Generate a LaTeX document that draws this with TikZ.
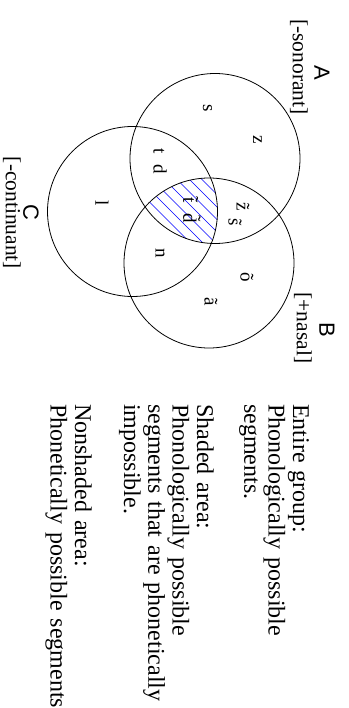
\documentclass[tikz,border=0pt]{standalone}
\usepackage{fontspec}
\setmainfont{Liberation Serif}
\newfontfamily\setletterfont{Liberation Sans}

\tikzset{
  setline/.style={line width=0.8pt},
  setname/.style={font=\setletterfont\fontsize{22}{22}\selectfont, inner sep=0pt},
  feature/.style={font=\fontsize{21.5}{24}\selectfont, inner sep=0pt},
  segment/.style={font=\fontsize{19}{21}\selectfont, inner sep=0pt},
  hatch/.style={blue, line width=0.5pt},
  legend/.style={font=\fontsize{24}{24.3}\selectfont, inner sep=0pt,
    text width=330pt, align=left, anchor=base west}
}

\begin{document}
\begin{tikzpicture}[x=1pt, y=1pt, rotate=-90, transform shape]
  % Page
  \useasboundingbox (0,0) rectangle (708,348);

  % Circle centres
  \coordinate (A) at (158.5,215);
  \coordinate (B) at (263,209);
  \coordinate (C) at (211.5,132.5);

  % Shaded area: all three sets
  \begin{scope}
    \clip (A) circle (85);
    \clip (B) circle (85);
    \clip (C) circle (85);
    \foreach \k in {-10,...,10}
      \draw[hatch] ({125+\k*12.5},110) -- ++(160,160);
  \end{scope}

  % Circles
  \draw[setline] (A) circle (85);
  \draw[setline] (B) circle (85);
  \draw[setline] (C) circle (85);

  % Circle labels
  \node[setname] (nameA) at (73,322) {A};
  \node[feature] (featA) at (67,299) {[-sonorant]};
  \node[setname] (nameB) at (330,327) {B};
  \node[feature] (featB) at (328,303) {[+nasal]};
  \node[setname] (nameC) at (212,31) {C};
  \node[feature] (featC) at (213,12) {[-continuant]};

  % Segments
  \node[segment] (segS)  at (108,207.5) {s};
  \node[segment] (segZ)  at (140,257.5) {z};
  \node[segment] (segTD) at (161,160) {t\hspace{0.55em}d};
  \node[segment] (segL)  at (203,102) {l};
  \node[segment] (segN)  at (253,160) {n};
  \node[segment] (segNT) at (210,192) {\~{t}\hspace{0.55em}\~{d}}; % shaded
  \node[segment] (segNZ) at (207,243) {\~{z}};
  \node[segment] (segNS) at (222,235) {\~{s}};
  \node[segment] (segNO) at (277,247) {õ};
  \node[segment] (segNA) at (302,211) {ã};

  % Legend
  \node[legend] (entire) at (404,293) {Entire group:\\
    Phonologically possible\\ segments.};
  \node[legend] (shaded) at (404,197) {Shaded area:\\
    Phonologically possible\\ segments that are phonetically\\ impossible.};
  \node[legend] (nonshaded) at (404,75) {Nonshaded area:\\
    Phonetically possible segments};
\end{tikzpicture}
\end{document}
